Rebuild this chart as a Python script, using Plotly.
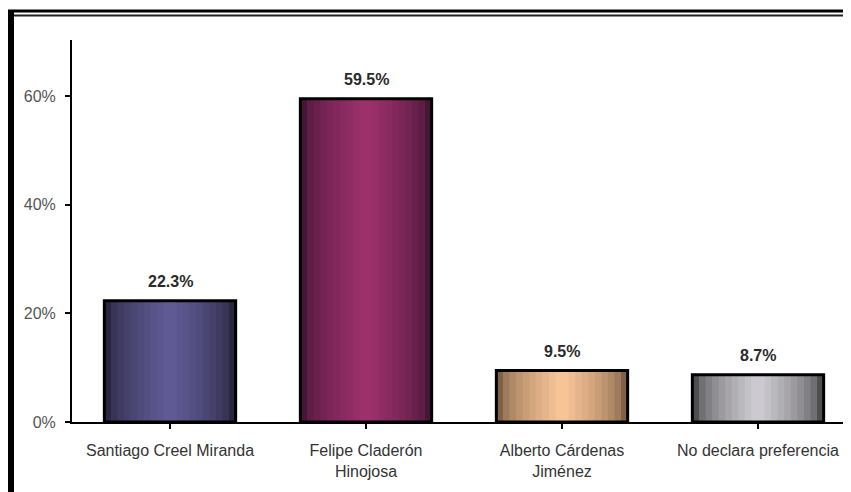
import plotly.graph_objects as go

categories = ["Santiago Creel Miranda", "Felipe Claderón<br>Hinojosa", "Alberto Cárdenas<br>Jiménez", "No declara preferencia"]
values = [22.3, 59.5, 9.5, 8.7]
y_ticks = [0, 20, 40, 60]
y_tick_labels = ["0%", "20%", "40%", "60%"]

edge_colors = [(40, 38, 64), (70, 22, 54), (128, 96, 70), (78, 78, 80)]
center_colors = [(96, 90, 148), (156, 48, 108), (246, 196, 150), (204, 202, 208)]

OFF = 8  # page offset of the figure inside the window
W, H = 851 - OFF, 492 - OFF
ML, MR, MT, MB = 72 - OFF, 0, 40 - OFF, H - (422 - OFF)
PW, PH = W - ML - MR, H - MT - MB

def px(x_page):
    return (x_page - OFF - ML) / PW

def py(y_page):
    return (H - MB - (y_page - OFF)) / PH

fig = go.Figure()
n_layers = 10
full_w = 0.67
for k in range(n_layers):
    t = k / (n_layers - 1)
    w = full_w * (1 - 0.9 * t)
    cols = []
    for e, c in zip(edge_colors, center_colors):
        rgb = tuple(int(round(e[j] + (c[j] - e[j]) * (t ** 0.6))) for j in range(3))
        cols.append("rgb(%d,%d,%d)" % rgb)
    fig.add_trace(go.Bar(x=list(range(len(values))), y=values, width=w,
                         marker=dict(color=cols, line=dict(width=0)),
                         hoverinfo="skip", showlegend=False))

fig.add_trace(go.Bar(x=list(range(len(values))), y=values, width=full_w,
                     marker=dict(color="rgba(0,0,0,0)", line=dict(color="black", width=3)),
                     showlegend=False))

for i, v in enumerate(values):
    fig.add_annotation(x=i, y=v, text="<b>%.1f%%</b>" % v, showarrow=False,
                       yshift=19, font=dict(size=16, color="#2a2a2a", family="Liberation Sans, Arial"))

fig.update_layout(
    width=W, height=H, barmode="overlay",
    margin=dict(l=ML, r=MR, t=MT, b=MB),
    paper_bgcolor="white", plot_bgcolor="white",
    font=dict(family="Liberation Sans, Arial", size=15, color="#444"),
    xaxis=dict(
        tickmode="array", tickvals=list(range(len(categories))), ticktext=categories,
        range=[-0.5, -0.5 + PW / 196.0], showgrid=False, zeroline=False,
        showline=True, linecolor="black", linewidth=2,
        ticks="outside", tickson="boundaries", ticklen=5, tickwidth=2, tickcolor="black",
        tickfont=dict(size=16, color="#333"), ticklabelstandoff=8,
    ),
    yaxis=dict(
        range=[0, 70.3], tickvals=y_ticks, ticktext=y_tick_labels,
        showgrid=False, zeroline=False, showline=True, linecolor="black", linewidth=2,
        ticks="outside", ticklen=5, tickwidth=2, tickcolor="black",
        tickfont=dict(size=16, color="#555"), ticklabelstandoff=6,
    ),
)

shapes = [
    dict(type="line", xref="paper", yref="paper", x0=px(11), x1=px(11), y0=py(10), y1=py(500),
         line=dict(color="black", width=6)),
    dict(type="line", xref="paper", yref="paper", x0=px(8), x1=px(860), y0=py(11), y1=py(11),
         line=dict(color="black", width=3)),
    dict(type="line", xref="paper", yref="paper", x0=px(14), x1=px(860), y0=py(15.5), y1=py(15.5),
         line=dict(color="#222", width=2)),
]
fig.update_layout(shapes=shapes)

fig.write_html("out.html")
